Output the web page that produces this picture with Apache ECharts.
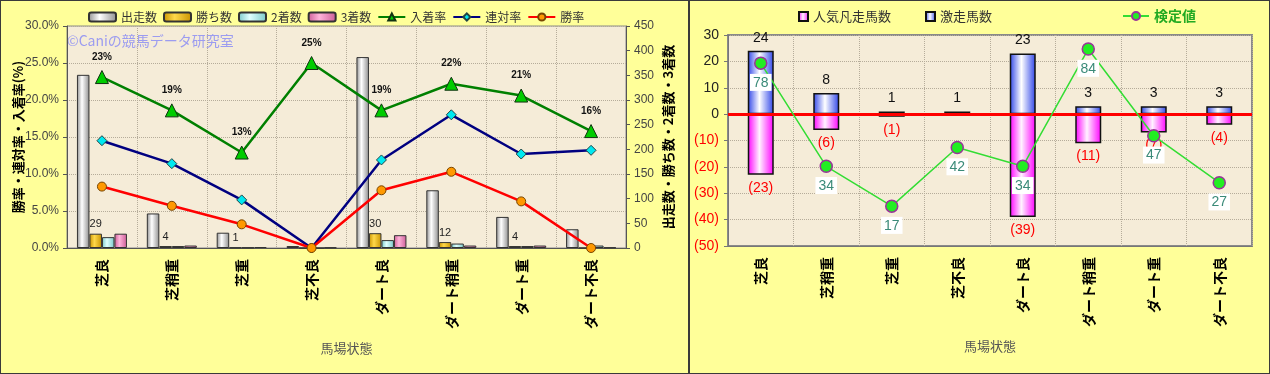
<!DOCTYPE html>
<html><head><meta charset="utf-8">
<script src="https://cdn.jsdelivr.net/npm/echarts@6/dist/echarts.min.js"></script>
<style>
html,body{margin:0;padding:0;background:#FFFF99;}
#wrap{position:relative;width:1270px;height:374px;overflow:hidden;background:#FFFF99;}
#c1{position:absolute;left:0;top:0;width:689px;height:374px;}
#c2{position:absolute;left:689px;top:0;width:581px;height:374px;}
.frame{position:absolute;border:1.5px solid #3a3a3a;box-sizing:border-box;pointer-events:none;}
</style></head>
<body>
<div id="wrap">
<div id="c1"></div>
<div id="c2"></div>
<div class="frame" style="left:0;top:0;width:690px;height:374px;"></div>
<div class="frame" style="left:688px;top:0;width:582px;height:374px;"></div>
</div>
<script>
// ---- data ----
const categories = ['芝良','芝稍重','芝重','芝不良','ダート良','ダート稍重','ダート重','ダート不良'];
const runs     = [351, 70, 31, 4, 387, 117, 63, 38];   // 出走数
const wins     = [29, 4, 1, 0, 30, 12, 4, 0];          // 勝ち数
const seconds  = [22, 4, 1, 0, 16, 9, 4, 5];           // 2着数
const thirds   = [29, 5, 2, 1, 26, 5, 5, 1];           // 3着数
const placeRate    = [23.1, 18.6, 12.9, 25.0, 18.6, 22.2, 20.6, 15.8]; // 入着率
const quinellaRate = [14.5, 11.4, 6.5, 0, 11.9, 18.0, 12.7, 13.2];     // 連対率
const winRate      = [8.3, 5.7, 3.2, 0, 7.8, 10.3, 6.3, 0];            // 勝率
const rateAxis  = [0, 30, 5];     // min,max,interval
const countAxis = [0, 450, 50];

const upsetCounts = [24, 8, 1, 1, 23, 3, 3, 3];          // 激走馬数
const flopCounts  = [-23, -6, -1, 0, -39, -11, -7, -4];  // 人気凡走馬数
const testValues  = [78, 34, 17, 42, 34, 84, 47, 27];    // 検定値
const diffAxis = [-50, 30, 10];
const testAxis = [0, 90];

const JP = "'Noto Sans CJK JP', sans-serif";
const NUM = "'Liberation Sans', Arial, sans-serif";
function hGrad(edge, mid, pos){
  return new echarts.graphic.LinearGradient(0,0,1,0,[
    {offset:0,color:edge},{offset:pos||0.45,color:mid},{offset:1,color:edge}]);
}
const dotted = {show:true, lineStyle:{type:'dotted', color:'#B5AC9A', width:1}};

// ---- left chart ----
const c1 = echarts.init(document.getElementById('c1'));
const barLabel = {show:true, position:'top', distance:4, color:'#222', fontSize:11, fontFamily:NUM,
  formatter:p => p.value === 0 ? '' : String(p.value)};
c1.setOption({
  animation:false,
  backgroundColor:'#FFFF99',
  textStyle:{fontFamily:JP},
  legend:{left:83, top:6, itemWidth:27, itemHeight:9, itemGap:6,
    textStyle:{fontSize:12, color:'#333', fontFamily:JP},
    data:[{name:'出走数', icon:'roundRect'},{name:'勝ち数', icon:'roundRect'},
          {name:'2着数', icon:'roundRect'},{name:'3着数', icon:'roundRect'},
          {name:'入着率'},{name:'連対率'},{name:'勝率'}]},
  grid:{left:67, right:63, top:26, bottom:126, show:true, backgroundColor:'#F5ECD8',
    borderColor:'#8A8A8A', borderWidth:1, outerBoundsMode:'none'},
  graphic:[{type:'text', left:67, top:34, silent:true,
    style:{text:'©Caniの競馬データ研究室', fill:'#9C9CF0', font:"14px 'Noto Sans CJK JP'"}}],
  xAxis:{type:'category', data:categories,
    axisLine:{lineStyle:{color:'#555'}}, axisTick:{show:false},
    axisLabel:{rotate:90, margin:11, fontSize:14, fontWeight:'bold', color:'#000', fontFamily:JP},
    splitLine:dotted,
    name:'馬場状態', nameLocation:'middle', nameGap:94, nameMoveOverlap:false,
    nameTextStyle:{fontSize:13, color:'#555', fontFamily:JP}},
  yAxis:[
    {type:'value', min:rateAxis[0], max:rateAxis[1], interval:rateAxis[2],
     axisLine:{show:true, lineStyle:{color:'#555'}}, axisTick:{show:true, length:4},
     axisLabel:{formatter:v => v.toFixed(1)+'%', fontSize:12, color:'#444', fontFamily:NUM, margin:8},
     splitLine:dotted,
     name:'勝率・連対率・入着率(%)', nameLocation:'middle', nameRotate:90, nameGap:42, nameMoveOverlap:false,
     nameTextStyle:{fontSize:13, fontWeight:'bold', color:'#000', fontFamily:JP}},
    {type:'value', min:countAxis[0], max:countAxis[1], interval:countAxis[2], position:'right',
     axisLine:{show:true, lineStyle:{color:'#555'}}, axisTick:{show:true, length:4},
     axisLabel:{fontSize:12, color:'#444', fontFamily:NUM, margin:8},
     splitLine:{show:false},
     name:'出走数・勝ち数・2着数・3着数', nameLocation:'middle', nameRotate:90, nameGap:36, nameMoveOverlap:false,
     nameTextStyle:{fontSize:13, fontWeight:'bold', color:'#000', fontFamily:JP}}
  ],
  series:[
    {name:'出走数', type:'bar', yAxisIndex:1, data:runs, barWidth:12.5, barGap:'0%',
     itemStyle:{color:hGrad('#8E8E8E','#FFFFFF',0.4), borderColor:'#333', borderWidth:1}},
    {name:'勝ち数', type:'bar', yAxisIndex:1, data:wins, barWidth:12.5, barGap:'0%',
     itemStyle:{color:hGrad('#C89200','#FFD84A',0.4), borderColor:'#333', borderWidth:1},
     label:barLabel},
    {name:'2着数', type:'bar', yAxisIndex:1, data:seconds, barWidth:12.5, barGap:'0%',
     itemStyle:{color:hGrad('#78C8C8','#E0FFFF',0.4), borderColor:'#333', borderWidth:1}},
    {name:'3着数', type:'bar', yAxisIndex:1, data:thirds, barWidth:12.5, barGap:'0%',
     itemStyle:{color:hGrad('#CC5C96','#FFB4DA',0.4), borderColor:'#333', borderWidth:1}},
    {name:'入着率', type:'line', yAxisIndex:0, data:placeRate, symbol:'triangle', symbolSize:13,
     lineStyle:{color:'#008000', width:2.5},
     itemStyle:{color:'#00CC00', borderColor:'#113311', borderWidth:1},
     label:{show:true, position:'top', distance:8, fontSize:10, fontWeight:'bold', color:'#111',
       fontFamily:NUM, formatter:p => Math.round(p.value)+'%'}, z:5},
    {name:'連対率', type:'line', yAxisIndex:0, data:quinellaRate, symbol:'diamond', symbolSize:10,
     lineStyle:{color:'#000080', width:2.5},
     itemStyle:{color:'#00E8F0', borderColor:'#224444', borderWidth:1}, z:4},
    {name:'勝率', type:'line', yAxisIndex:0, data:winRate, symbol:'circle', symbolSize:9,
     lineStyle:{color:'#FF0000', width:2.5},
     itemStyle:{color:'#FF9900', borderColor:'#774400', borderWidth:1}, z:4}
  ]
});

// ---- right chart ----
const c2 = echarts.init(document.getElementById('c2'));
c2.setOption({
  animation:false,
  backgroundColor:'#FFFF99',
  textStyle:{fontFamily:JP},
  legend:[
    {left:104, top:5, itemWidth:9, itemHeight:9, itemGap:34, icon:'rect',
     textStyle:{fontSize:13, color:'#333', fontFamily:JP}, data:['人気凡走馬数','激走馬数']},
    {left:428, top:4, itemWidth:26, itemHeight:10, textStyle:{fontSize:14, fontWeight:'bold', color:'#22AA22', fontFamily:JP},
     data:['検定値']}
  ],
  grid:{left:39, right:18, top:35, bottom:128, show:true, backgroundColor:'#F5ECD8',
    borderColor:'#8A8A8A', borderWidth:2, outerBoundsMode:'none'},
  xAxis:{type:'category', data:categories,
    axisLine:{onZero:false, lineStyle:{color:'#777'}}, axisTick:{show:false},
    axisLabel:{rotate:90, margin:11, fontSize:14, fontWeight:'bold', color:'#000', fontFamily:JP},
    splitLine:dotted,
    name:'馬場状態', nameLocation:'middle', nameGap:94, nameMoveOverlap:false,
    nameTextStyle:{fontSize:13, color:'#555', fontFamily:JP}},
  yAxis:[
    {type:'value', min:diffAxis[0], max:diffAxis[1], interval:diffAxis[2],
     axisLine:{show:true, lineStyle:{color:'#777'}}, axisTick:{show:true, length:4},
     axisLabel:{fontSize:14, fontFamily:NUM, margin:9,
       formatter:v => v < 0 ? '(' + (-v) + ')' : String(v),
       color:v => Number(v) < 0 ? '#FF0000' : '#222'},
     splitLine:dotted},
    {type:'value', min:testAxis[0], max:testAxis[1], show:false, splitLine:{show:false}}
  ],
  series:[
    {name:'人気凡走馬数', type:'bar', data:flopCounts, barWidth:26, barGap:'-100%',
     itemStyle:{color:hGrad('#FF00FF','#FFF2FF',0.45), borderColor:'#111', borderWidth:1.5},
     label:{show:true, position:'bottom', distance:6, fontSize:14, color:'#FF0000', fontFamily:NUM,
       formatter:p => p.value === 0 ? '' : '(' + (-p.value) + ')'}},
    {name:'激走馬数', type:'bar', data:upsetCounts, barWidth:26, barGap:'-100%',
     itemStyle:{color:hGrad('#2E44E8','#FFFFFF',0.45), borderColor:'#111', borderWidth:1.5},
     label:{show:true, position:'top', distance:6, fontSize:14, color:'#111', fontFamily:NUM},
     markLine:{silent:true, symbol:'none', label:{show:false},
       lineStyle:{color:'#FF0000', width:3, type:'solid'}, data:[{yAxis:0}]}},
    {name:'検定値', type:'line', yAxisIndex:1, data:testValues, symbol:'circle', symbolSize:12,
     lineStyle:{color:'#33DD33', width:1.5},
     itemStyle:{color:'#22EE22', borderColor:'#993399', borderWidth:1.5},
     label:{show:true, position:'bottom', distance:4, fontSize:14, color:'#3A8A78', fontFamily:NUM,
       backgroundColor:'#FFFFFF', padding:[2,3,1,3]}, z:5}
  ]
});
</script>
</body></html>
